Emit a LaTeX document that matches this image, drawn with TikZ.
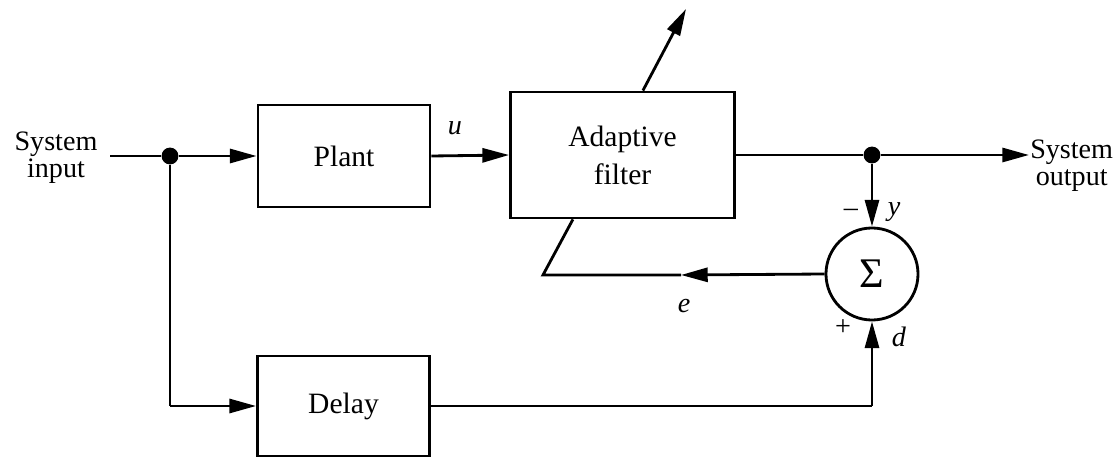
\documentclass[tikz,border=0pt]{standalone}
\usepackage{fontspec}
\setmainfont{Liberation Serif}
\usetikzlibrary{arrows.meta,calc}

\tikzset{
  blk/.style={draw, line width=2pt, inner sep=0pt,
    font=\fontsize{21}{26}\selectfont, align=center},
  wire/.style={line width=2pt},
  sig/.style={wire, -{Triangle[length=19pt,width=10pt]}},
  lbl/.style={font=\fontsize{20}{19}\selectfont, align=center, inner sep=0pt},
  var/.style={font=\fontsize{20}{20}\selectfont\itshape, inner sep=0pt},
  dot/.style={fill=black,circle,inner sep=0pt,minimum size=12pt},
}

\begin{document}
\begin{tikzpicture}[x=0.025cm,y=-0.025cm]
  \useasboundingbox (0,0) rectangle (1120,458);
  % blocks
  \node[blk, minimum width=4.3cm, minimum height=2.55cm] (plant) at (344,156) {Plant};
  \node[blk, minimum width=5.6cm, minimum height=3.15cm] (af) at (622.5,155) {Adaptive\\[1pt]filter};
  \node[blk, minimum width=4.3cm, minimum height=2.5cm] (delay) at (343.5,406) {Delay};
  \node[draw, circle, line width=2pt, minimum size=2.3cm, inner sep=0pt,
    font=\fontsize{30}{30}\selectfont] (sum) at (872,274) {Σ};
  % texts
  \node[lbl] (sysin) at (56,158) {System\\input};
  \node[lbl, anchor=west] (sysout) at (1030,166) {System\\output};
  \node[var] (u) at (455,128) {u};
  \node[var] (e) at (684,306) {e};
  \node[var] (y) at (894,212) {y};
  \node[var] (d) at (899,337) {d};
  \node[font=\fontsize{20}{20}\selectfont, inner sep=0pt] (minus) at (851,213) {–};
  \node[font=\fontsize{20}{20}\selectfont, inner sep=0pt] (plus) at (843,328) {+};
  % junctions
  \node[dot] (jin) at (170,156) {};
  \node[dot] (jout) at (872,155) {};
  \coordinate (in) at (110,156);
  \coordinate (out) at (1029,155);
  \coordinate (adj) at (686,9);
  \coordinate (fbtip) at (681,275);
  \coordinate (fbcorner) at (543,275);
  \coordinate (dcorner) at (872,406);
  \coordinate (icorner) at (170,406);
  % connectors
  \draw[wire] (in) -- (jin);
  \draw[sig] (jin) -- (plant.west);
  \draw[sig] (plant.east) -- (af.west);
  \draw[wire] (af.east) -- (jout);
  \draw[sig] (jout) -- (out);
  \draw[sig] (jout) -- (sum.north);
  \draw[sig] ([xshift=0.51cm]af.north) -- (adj);
  \draw[sig] (sum.west) -- (fbtip);
  \draw[wire] (fbtip) -- (fbcorner) -- ([xshift=-1.24cm]af.south);
  \draw[wire] (jin) -- (icorner);
  \draw[sig] (icorner) -- (delay.west);
  \draw[wire] (delay.east) -- (dcorner);
  \draw[sig] (dcorner) -- (sum.south);
\end{tikzpicture}
\end{document}
